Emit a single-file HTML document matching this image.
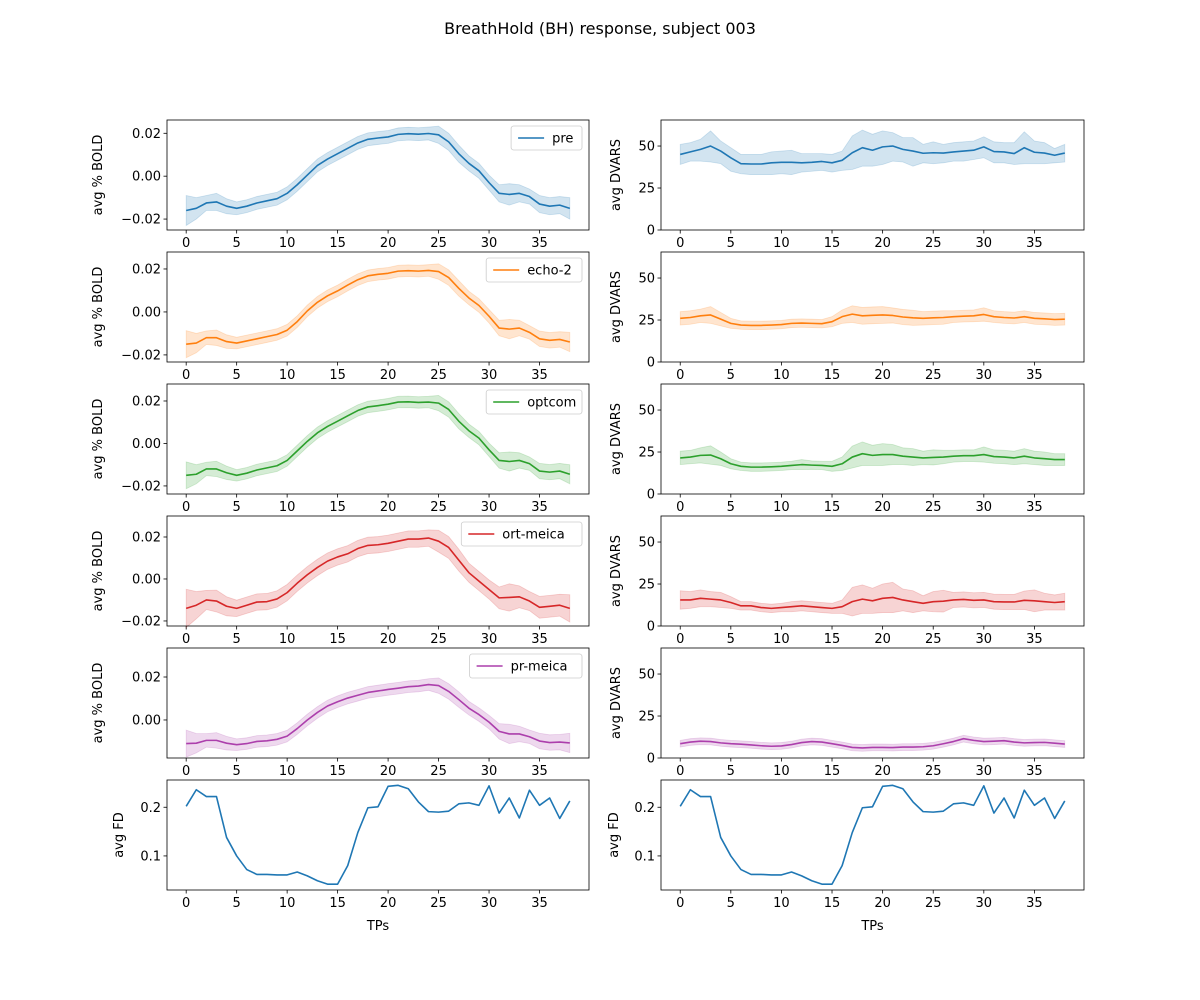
<!DOCTYPE html>
<html><head><meta charset="utf-8"><style>
body{margin:0;background:#fff}
svg{display:block;font-family:"DejaVu Sans","Liberation Sans",sans-serif}
</style></head><body>
<svg id="fig" width="1200" height="1000" viewBox="0 0 1200 1000" xmlns="http://www.w3.org/2000/svg">
<rect width="1200" height="1000" fill="#fff"/>
<text x="600" y="34" text-anchor="middle" font-size="16">BreathHold (BH) response, subject 003</text>
</svg>
<script>
const tps = Array.from({length:39},(_,i)=>i);
const seriesNames = ["pre","echo-2","optcom","ort-meica","pr-meica"];
const boldPre = [-0.016,-0.015,-0.0125,-0.012,-0.014,-0.015,-0.014,-0.0125,-0.0115,-0.0105,-0.008,-0.004,0.0005,0.005,0.008,0.0105,0.013,0.0155,0.0172,0.0178,0.0183,0.0195,0.0198,0.0196,0.0199,0.0193,0.016,0.0105,0.006,0.0025,-0.003,-0.008,-0.0085,-0.008,-0.0095,-0.013,-0.014,-0.0135,-0.015];
const boldEcho2 = [-0.015,-0.0145,-0.012,-0.012,-0.0138,-0.0145,-0.0135,-0.0125,-0.0115,-0.0105,-0.0085,-0.0045,0.0005,0.0045,0.0075,0.0098,0.0125,0.015,0.0168,0.0175,0.018,0.019,0.0192,0.019,0.0193,0.0188,0.016,0.011,0.0065,0.003,-0.002,-0.0075,-0.008,-0.0075,-0.0095,-0.0125,-0.0132,-0.0128,-0.014];
const boldOptcom = [-0.015,-0.0145,-0.012,-0.012,-0.0138,-0.015,-0.014,-0.0125,-0.0115,-0.0105,-0.008,-0.0035,0.001,0.005,0.008,0.0105,0.013,0.0155,0.0172,0.0178,0.0185,0.0195,0.0196,0.0193,0.0195,0.019,0.016,0.0105,0.006,0.0025,-0.003,-0.008,-0.0085,-0.008,-0.0095,-0.013,-0.0135,-0.013,-0.0145];
const boldOrt = [-0.014,-0.0125,-0.010,-0.0105,-0.013,-0.014,-0.0125,-0.011,-0.0108,-0.0095,-0.0065,-0.002,0.002,0.0055,0.0085,0.0105,0.012,0.0145,0.016,0.0163,0.017,0.018,0.019,0.019,0.0195,0.018,0.015,0.009,0.003,-0.001,-0.005,-0.009,-0.0088,-0.0085,-0.0105,-0.0135,-0.013,-0.0125,-0.014];
const boldPr = [-0.011,-0.0108,-0.0095,-0.0095,-0.0108,-0.0115,-0.011,-0.01,-0.0097,-0.009,-0.0075,-0.004,0.0,0.0035,0.0065,0.0085,0.0102,0.0115,0.0128,0.0135,0.0142,0.0148,0.0155,0.0158,0.0165,0.016,0.0133,0.0095,0.0055,0.0025,-0.001,-0.0053,-0.0065,-0.0065,-0.0078,-0.0098,-0.0105,-0.0103,-0.0107];
const boldSpread = [0.007,0.005,0.0035,0.004,0.0035,0.003,0.003,0.003,0.003,0.003,0.003,0.003,0.003,0.003,0.003,0.003,0.003,0.003,0.003,0.003,0.003,0.003,0.003,0.003,0.003,0.004,0.004,0.004,0.0035,0.0035,0.0035,0.004,0.005,0.004,0.0035,0.004,0.004,0.004,0.005];
const boldSpreadScale = [1,0.9,0.9,1.3,0.9];
const dvarsPre = [45,46.5,48,50,47,43,39.5,39.3,39.3,40,40.3,40.3,40,40.3,40.8,40,41.5,46,49,47.5,49.5,50,48,47,45.7,46,45.8,46.5,47,47.5,49.5,46.7,46.5,45.5,49,46.3,45.8,44.5,45.8];
const dvarsPreLo = [39,41,41,40.5,39.5,35,33.5,33,33,33,33.5,33,34.5,35,35.5,34.5,35.5,36,38,38,39,41,40.5,38,40,39.5,40,41,41,42,43,40,40,39,39.5,39.5,39.5,40,40.5];
const dvarsPreHi = [51,52,54,59,53,49,45,45,45,46.5,47,47.5,45.5,45.5,45.5,45,47,56,59.5,57,59,58,55,55,51,52.5,51,52,52.5,53,55.5,52.5,52,52,58.5,53,52,48.5,51];
const dvarsEcho2 = [26,26.5,27.5,28,25.5,23,22,21.8,21.8,22,22.3,23,23.2,23,22.8,24,27,28.5,27.5,27.8,28,27.7,26.8,26.3,26,26.3,26.5,27,27.3,27.5,28.3,27,26.5,26.2,27,26,25.7,25.3,25.5];
const dvarsOptcom = [21.5,22,23,23.2,21,18,16.5,16,16,16.2,16.5,17,17.5,17.2,17,16.5,18,22,24,23,23.5,23.5,22.5,22,21.5,21.8,22,22.5,22.8,22.8,23.5,22.3,22,21.5,22.5,21.5,21,20.5,20.5];
const dvarsOrt = [15.5,15.5,16.5,16,15.5,14,12,12,11,10.5,11,11.5,12,11.5,11,10.5,11.5,14.5,16,15,16.5,17,15.5,14.5,13.5,14.5,14.8,15.5,15.8,15.3,15.5,14.5,14.3,14.3,15.3,15,14.5,14,14.5];
const dvarsPr = [8.5,9.5,10,9.8,9,8.5,8.2,7.8,7.3,7,7.2,8,9.2,9.8,9.5,8.5,7.5,6.3,6,6.3,6.3,6.2,6.5,6.5,6.7,7.3,8.5,9.8,11.5,10.5,9.8,10,10.3,9.5,9,9.2,9.3,8.8,8.3];
const spreadEcho2 = [4,4,4,5,4,3,2.5,2.5,2.5,2.5,2.5,2.5,2.5,2.5,2.5,3,4,5,5,5,5,4.5,4.5,4.5,4,4,4,3.5,3.5,3.5,4,3.5,3.5,3.5,3.5,3.5,3.5,3.5,3.5];
const spreadOptcom = [4,4,4.5,5.5,4,3,2.5,2.5,2.5,2.5,2.5,2.5,3,2.5,2.5,3,4,6.5,7,6,6.5,6,5,5,4,4.5,4,3.5,3.5,3.5,4.5,4,4,4,4.5,4,4,3.5,3.5];
const spreadOrt = [5.5,5,5,4.5,4.5,3.5,2.5,2.5,2.5,2.5,2.5,3,3,3,3,3,4,8.5,8.5,7.5,8.5,9,6.5,6.5,4.5,6,6.5,4.5,4.5,4.5,4.5,4.5,4.5,4.5,5.5,6.5,5,4.5,5];
const spreadPr = [2,2,2,2,2,2,2,2,2,2,2,2,2,2,2,2,2,2,2,2,2,2,2,2,2,2,2,2,2,2,2,2,2,2,2,2,2,2,2];
const fdValues = [0.202,0.236,0.222,0.222,0.138,0.1,0.072,0.062,0.062,0.061,0.061,0.067,0.059,0.049,0.042,0.042,0.08,0.148,0.199,0.201,0.243,0.245,0.238,0.211,0.191,0.19,0.192,0.207,0.209,0.204,0.244,0.188,0.219,0.178,0.235,0.204,0.219,0.177,0.213];
const xTicks = [0,5,10,15,20,25,30,35];
const boldTicks = [-0.02,0,0.02];
const boldTickLabels = ["\u22120.02","0.00","0.02"];
const dvarsTicks = [0,25,50];
const fdTicks = [0.1,0.2];
const fdTickLabels = ["0.1","0.2"];

const colors = ["#1f77b4","#ff7f0e","#2ca02c","#d62728","#ac3fac"];
const boldMeans = [boldPre,boldEcho2,boldOptcom,boldOrt,boldPr];
const dvarsMeans = [dvarsPre,dvarsEcho2,dvarsOptcom,dvarsOrt,dvarsPr];
const dvarsSpreads = [null,spreadEcho2,spreadOptcom,spreadOrt,spreadPr];
const boldRanges = [[-0.0251,0.0262],[-0.0233,0.0279],[-0.0238,0.028],[-0.0224,0.030],[-0.0177,0.0335]];
const rowTops = [120,252,384,516,648,780];
const H = 110;
const cols = [{l:167,r:589},{l:661,r:1084}];
const XMIN=-1.9, XMAX=39.9;
const svg = document.getElementById('fig');
const NS="http://www.w3.org/2000/svg";
function mk(tag,attrs,parent){const e=document.createElementNS(NS,tag);for(const k in attrs)e.setAttribute(k,attrs[k]);(parent||svg).appendChild(e);return e;}
function xs(c,v){return cols[c].l+(v-XMIN)/(XMAX-XMIN)*(cols[c].r-cols[c].l);}
function ys(top,lo,hi,v){return top+H-(v-lo)/(hi-lo)*H;}

function panel(c,r,lo,hi,ticks,labels,ylabel,ylabelX,name){
  const g=mk('g',{});
  
  
  const top=rowTops[r];
  xTicks.forEach(t=>{const x=xs(c,t);
    const tl=mk('line',{x1:x,x2:x,y1:top+H,y2:top+H+3.5,stroke:'#000','stroke-width':0.8},g);
    
    
    const tx=mk('text',{x:x,y:top+H+17,'text-anchor':'middle','font-size':13},g);tx.textContent=t;
    
    });
  ticks.forEach((t,i)=>{const y=ys(top,lo,hi,t);
    const tl=mk('line',{x1:cols[c].l-3.5,x2:cols[c].l,y1:y,y2:y,stroke:'#000','stroke-width':0.8},g);
    
    
    const tx=mk('text',{x:cols[c].l-6,y:y+4.5,'text-anchor':'end','font-size':13},g);tx.textContent=labels[i];
    
    });
  const yl=mk('text',{x:ylabelX,y:top+H/2,'text-anchor':'middle','font-size':13,transform:`rotate(-90 ${ylabelX} ${top+H/2})`},g);
  yl.textContent=ylabel;
  
  
  return {g,top};
}
function frame(c,top,g){const f=mk('rect',{x:cols[c].l,y:top,width:cols[c].r-cols[c].l,height:H,fill:'none',stroke:'#000','stroke-width':0.8},g);
  
  }
function band(c,top,lo,hi,lower,upper,color,g){
  let d='M';tps.forEach((t,i)=>{d+=xs(c,t)+','+ys(top,lo,hi,upper[i])+' L';});
  for(let i=tps.length-1;i>=0;i--){d+=xs(c,tps[i])+','+ys(top,lo,hi,lower[i])+(i>0?' L':' Z');}
  const p=mk('path',{d:d,fill:color,'fill-opacity':0.2,stroke:color,'stroke-opacity':0.2,'stroke-width':0.8},g);
  
  
}
function line(c,top,lo,hi,vals,color,g,name){
  const pts=tps.map((t,i)=>xs(c,t)+','+ys(top,lo,hi,vals[i])).join(' ');
  const p=mk('polyline',{points:pts,fill:'none',stroke:color,'stroke-width':1.6,'stroke-linejoin':'round'},g);
  
  
}
function legend(c,top,label,color,g){
  const w=46+label.length*8.3;
  const x=cols[c].r-7-w, y=top+6;
  const lg=mk('g',{},g);
  
  
  mk('rect',{x:x,y:y,width:w,height:24,rx:2.5,fill:'#fff','fill-opacity':0.8,stroke:'#ccc','stroke-width':0.8},lg);
  mk('line',{x1:x+7,x2:x+33,y1:y+12,y2:y+12,stroke:color,'stroke-width':1.6},lg);
  const t=mk('text',{x:x+41,y:y+16.5,'font-size':13},lg);t.textContent=label;
  
  
}

for(let r=0;r<5;r++){
  const [lo,hi]=boldRanges[r];
  const useT=[],useL=[];
  boldTicks.forEach((t,i)=>{if(t>=lo&&t<=hi){useT.push(t);useL.push(boldTickLabels[i]);}});
  const {g,top}=panel(0,r,lo,hi,useT,useL,'avg % BOLD',102,'bold-panel-'+seriesNames[r]);
  const m=boldMeans[r];
  band(0,top,lo,hi,m.map((v,i)=>v-boldSpread[i]*boldSpreadScale[r]),m.map((v,i)=>v+boldSpread[i]*boldSpreadScale[r]),colors[r],g);
  line(0,top,lo,hi,m,colors[r],g,'bold-line-'+seriesNames[r]);
  frame(0,top,g);
  legend(0,top,seriesNames[r],colors[r],g);

  const dlo=0,dhi=65.5;
  const p2=panel(1,r,dlo,dhi,dvarsTicks,dvarsTicks.map(String),'avg DVARS',620,'dvars-panel-'+seriesNames[r]);
  const dm=dvarsMeans[r];
  let lower,upper;
  if(r===0){lower=dvarsPreLo;upper=dvarsPreHi;}
  else{lower=dm.map((v,i)=>v-dvarsSpreads[r][i]);upper=dm.map((v,i)=>v+dvarsSpreads[r][i]);}
  band(1,p2.top,dlo,dhi,lower,upper,colors[r],p2.g);
  line(1,p2.top,dlo,dhi,dm,colors[r],p2.g,'dvars-line-'+seriesNames[r]);
  frame(1,p2.top,p2.g);
}
for(let c=0;c<2;c++){
  const lo=0.030,hi=0.256;
  const {g,top}=panel(c,5,lo,hi,fdTicks,fdTickLabels,'avg FD',c===0?123:618,'fd-panel-'+(c===0?'left':'right'));
  line(c,top,lo,hi,fdValues,colors[0],g,'fd-line');
  frame(c,top,g);
  const xl=mk('text',{x:(cols[c].l+cols[c].r)/2,y:930,'text-anchor':'middle','font-size':13},g);
  xl.textContent='TPs';
  
  
}
</script>
</body></html>
